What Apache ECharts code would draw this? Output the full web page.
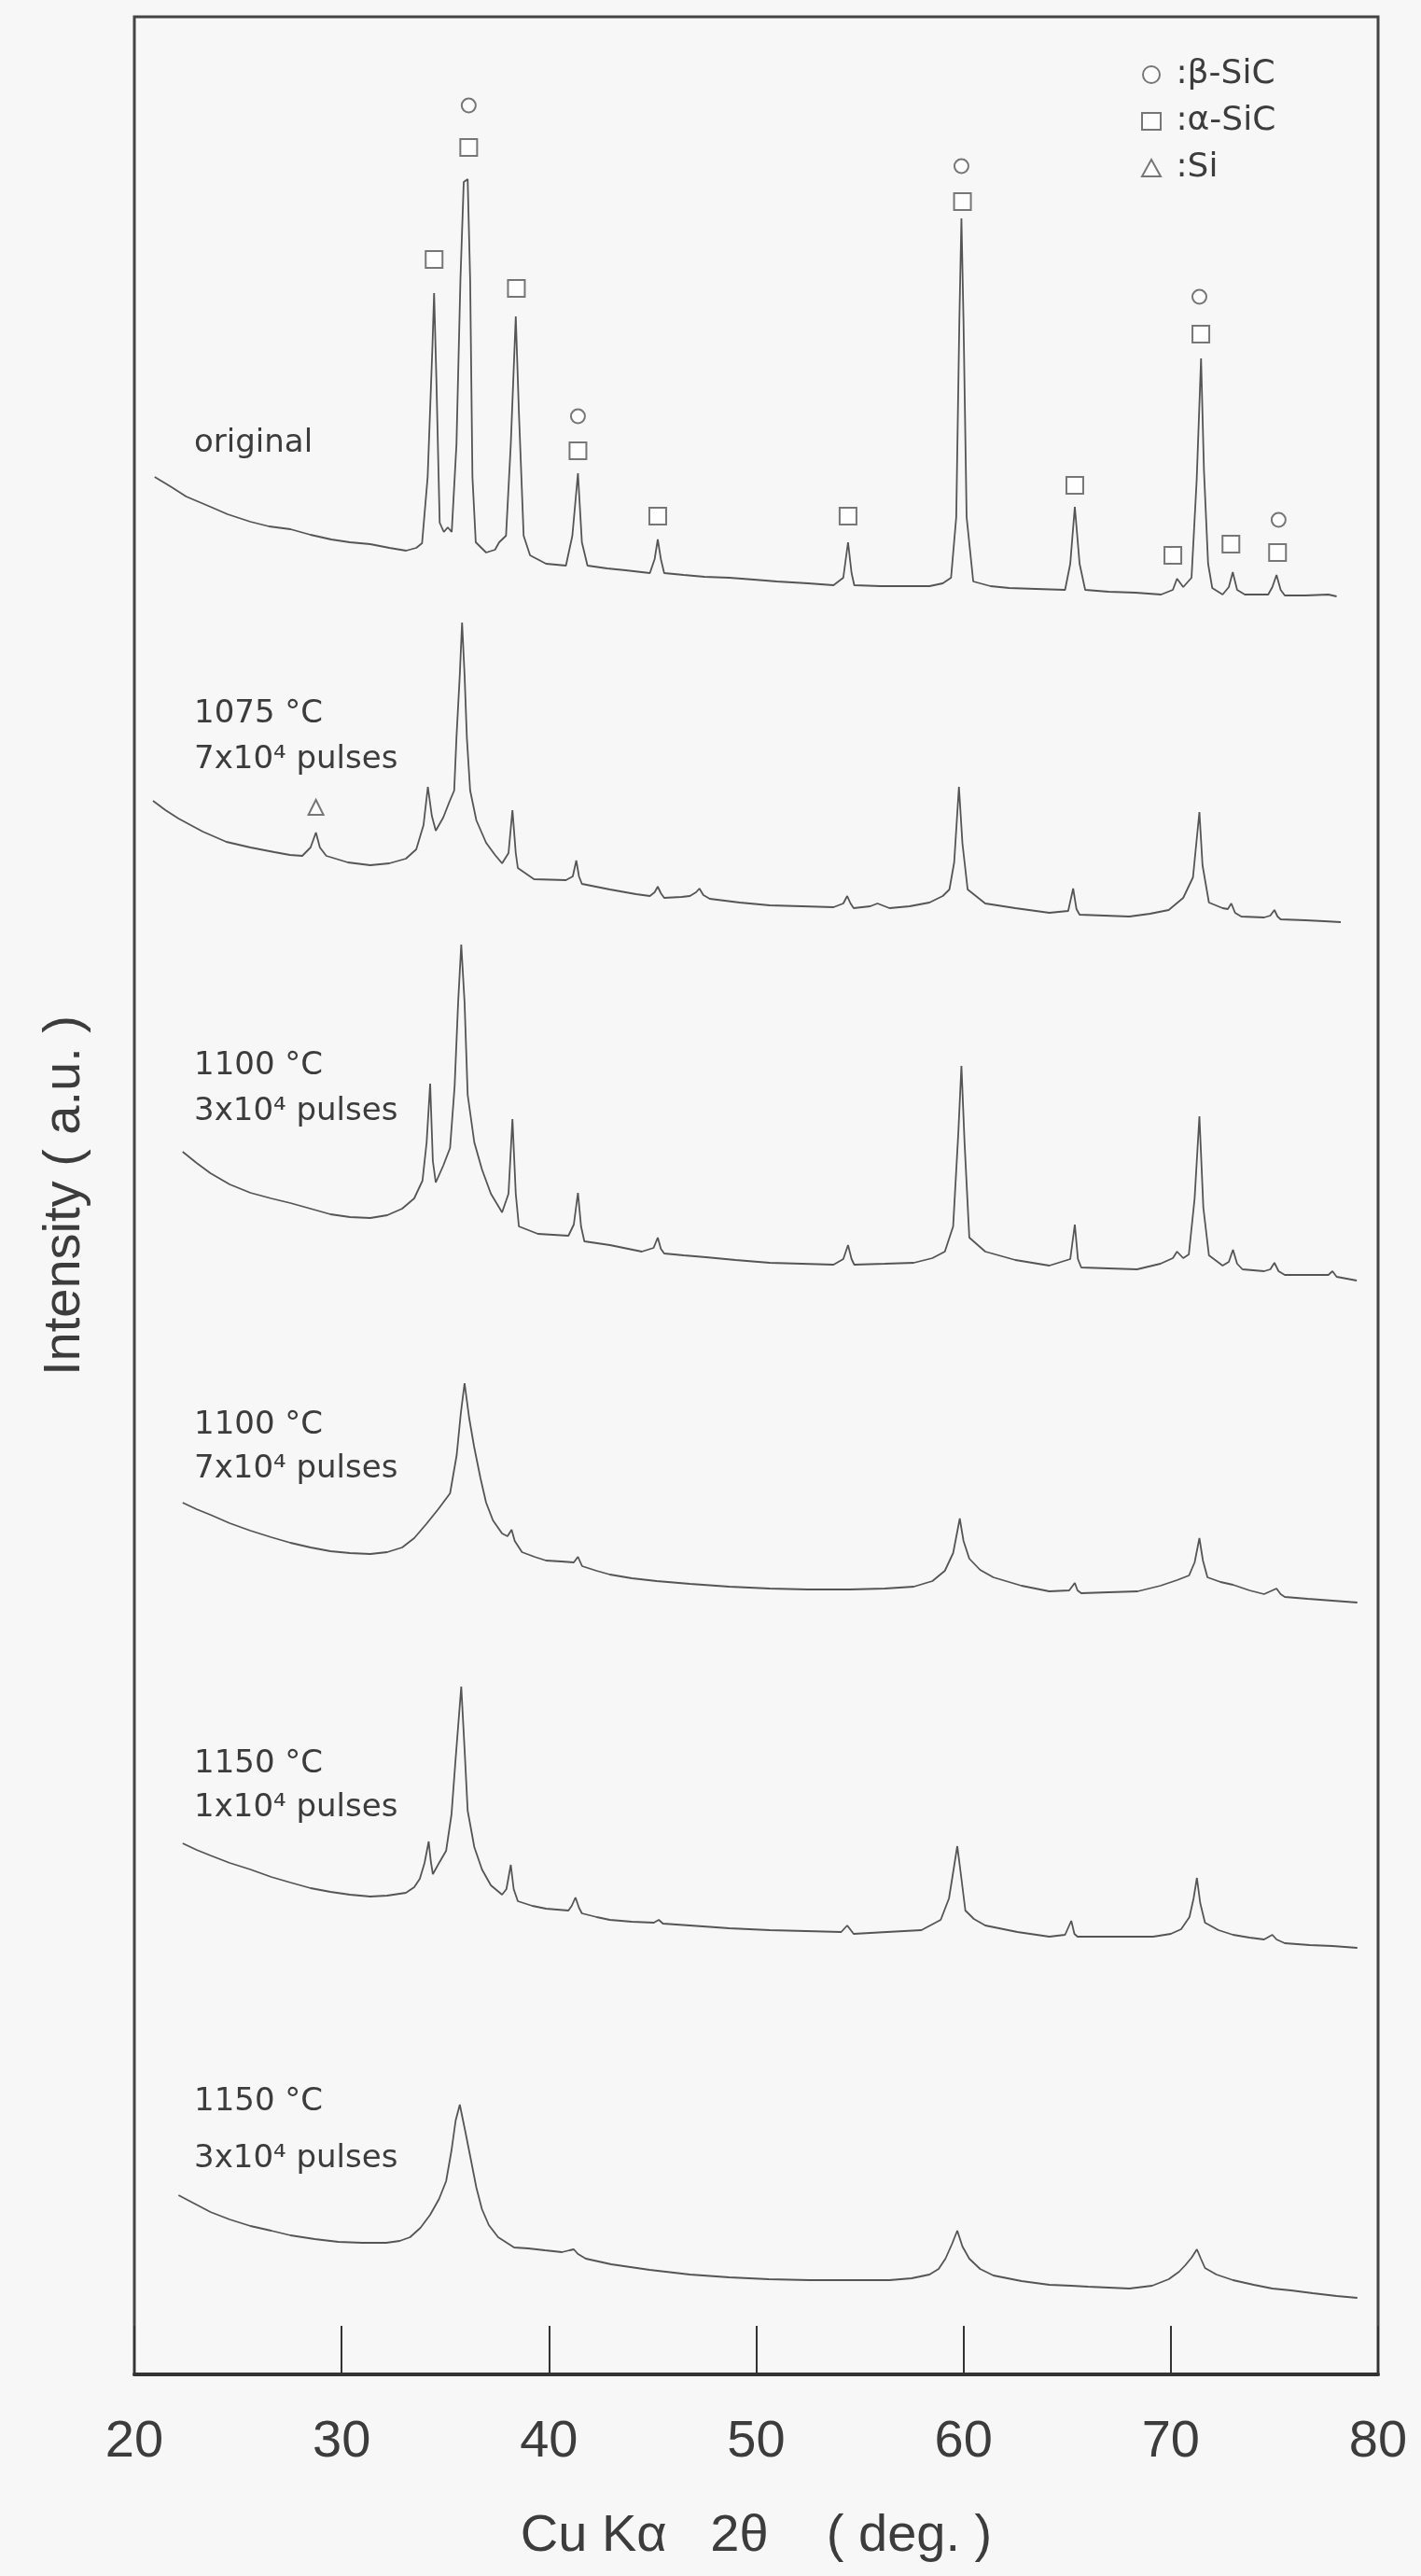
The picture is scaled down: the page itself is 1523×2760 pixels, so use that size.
<!DOCTYPE html>
<html>
<head>
<meta charset="utf-8">
<title>XRD patterns of SiC</title>
<script src="https://cdn.jsdelivr.net/npm/echarts@6/dist/echarts.min.js"></script>
<style>
  html, body { margin: 0; padding: 0; background: #f8f7f8; }
  #chart { width: 1523px; height: 2760px; }
</style>
</head>
<body>
<div id="chart"></div>
<script>
// diffraction angle 2theta (deg) vs intensity (a.u., traces stacked with offsets)
var original = [
  [20.98, 2033], [21.8, 2022], [22.5, 2012], [23.67, 2001], [24.5, 1993], [25.6, 1985], [26.5, 1980],
  [27.53, 1977], [28.5, 1971], [29.5, 1966], [30.4, 1963], [31.38, 1961], [32.3, 1957], [33.11, 1954],
  [33.6, 1957], [33.88, 1962], [34.15, 2033], [34.38, 2173], [34.46, 2230], [34.57, 2138], [34.73, 1984],
  [34.93, 1974], [35.12, 1979], [35.31, 1974], [35.54, 2068], [35.73, 2244], [35.89, 2349], [36.08, 2352],
  [36.2, 2244], [36.31, 2033], [36.47, 1963], [36.97, 1952], [37.4, 1955], [37.6, 1963], [37.93, 1970],
  [38.16, 2068], [38.4, 2205], [38.55, 2103], [38.78, 1970], [39.09, 1949], [39.86, 1940], [40.82, 1938],
  [41.13, 1970], [41.4, 2037], [41.59, 1963], [41.86, 1938], [42.8, 1935], [43.7, 1933], [44.87, 1930],
  [45.1, 1945], [45.25, 1966], [45.4, 1945], [45.56, 1930], [46.5, 1928], [47.5, 1926], [48.7, 1925],
  [49.88, 1923], [51.0, 1921], [52.5, 1919], [53.73, 1917], [54.2, 1925], [54.43, 1963], [54.6, 1930],
  [54.73, 1917], [56.0, 1916], [57.3, 1916], [58.36, 1916], [59.0, 1919], [59.4, 1925], [59.65, 1990],
  [59.8, 2200], [59.9, 2310], [60.0, 2200], [60.15, 1990], [60.47, 1921], [61.3, 1916], [62.2, 1914],
  [63.5, 1913], [64.9, 1912], [65.15, 1940], [65.37, 2001], [65.6, 1940], [65.87, 1912], [67.0, 1910],
  [68.3, 1909], [69.53, 1907], [70.1, 1912], [70.3, 1924], [70.6, 1915], [71.0, 1925], [71.25, 2030],
  [71.46, 2160], [71.6, 2040], [71.8, 1940], [72.0, 1914], [72.5, 1907], [72.8, 1915], [72.99, 1931],
  [73.2, 1912], [73.57, 1907], [74.7, 1907], [74.9, 1915], [75.1, 1928], [75.3, 1912], [75.5, 1906],
  [76.5, 1906], [77.6, 1907], [78.0, 1905]
];

var t1075p7 = [
  [20.9, 1686], [21.5, 1676], [22.13, 1667], [23.3, 1653], [24.44, 1642], [25.6, 1636], [26.76, 1631],
  [27.5, 1628], [28.1, 1627], [28.5, 1636], [28.76, 1652], [28.95, 1636], [29.26, 1627], [30.3, 1620],
  [31.38, 1617], [32.3, 1619], [33.1, 1624], [33.6, 1634], [33.95, 1660], [34.16, 1701], [34.35, 1670],
  [34.54, 1654], [34.9, 1668], [35.2, 1685], [35.43, 1697], [35.54, 1754], [35.7, 1821], [35.81, 1877],
  [35.93, 1821], [36.04, 1754], [36.2, 1697], [36.5, 1665], [36.97, 1641], [37.4, 1628], [37.74, 1619],
  [38.05, 1630], [38.24, 1676], [38.4, 1630], [38.5, 1614], [39.28, 1602], [40.82, 1601], [41.15, 1605],
  [41.32, 1622], [41.45, 1605], [41.59, 1597], [42.94, 1591], [44.2, 1586], [44.87, 1584], [45.1, 1588],
  [45.25, 1594], [45.4, 1587], [45.56, 1582], [46.4, 1583], [46.8, 1584], [47.1, 1588], [47.26, 1592],
  [47.45, 1585], [47.76, 1581], [49.2, 1577], [50.65, 1574], [52.2, 1573], [53.73, 1572], [54.2, 1576],
  [54.39, 1584], [54.55, 1576], [54.7, 1571], [55.5, 1573], [55.85, 1576], [56.43, 1571], [57.4, 1573],
  [58.36, 1577], [59.0, 1584], [59.32, 1591], [59.55, 1620], [59.78, 1701], [59.95, 1640], [60.2, 1591],
  [61.05, 1576], [62.5, 1571], [64.14, 1566], [65.05, 1568], [65.29, 1592], [65.45, 1570], [65.6, 1564],
  [66.8, 1563], [68.0, 1562], [69.0, 1565], [69.9, 1569], [70.6, 1582], [71.07, 1604], [71.38, 1674],
  [71.53, 1617], [71.84, 1577], [72.5, 1571], [72.75, 1570], [72.92, 1576], [73.1, 1566], [73.4, 1562],
  [74.5, 1561], [74.8, 1563], [75.0, 1569], [75.15, 1562], [75.3, 1559], [76.5, 1558], [77.4, 1557],
  [78.2, 1556]
];

var t1100p3 = [
  [22.33, 1310], [23.0, 1298], [23.67, 1287], [24.6, 1275], [25.6, 1266], [26.6, 1260], [27.53, 1255],
  [28.5, 1249], [29.46, 1243], [30.4, 1240], [31.38, 1239], [32.2, 1242], [32.92, 1249], [33.5, 1260],
  [33.9, 1279], [34.1, 1320], [34.27, 1383], [34.4, 1300], [34.54, 1277], [34.9, 1295], [35.23, 1314],
  [35.45, 1380], [35.62, 1470], [35.77, 1532], [35.93, 1470], [36.08, 1371], [36.4, 1320], [36.77, 1291],
  [37.2, 1265], [37.74, 1245], [38.05, 1265], [38.24, 1345], [38.4, 1265], [38.55, 1230], [39.47, 1222],
  [40.94, 1220], [41.2, 1232], [41.4, 1266], [41.55, 1230], [41.71, 1214], [42.94, 1210], [44.48, 1203],
  [45.05, 1207], [45.25, 1218], [45.4, 1206], [45.56, 1201], [46.5, 1199], [47.57, 1197], [49.0, 1194],
  [50.65, 1191], [52.2, 1190], [53.73, 1189], [54.2, 1195], [54.43, 1210], [54.6, 1195], [54.73, 1189],
  [56.2, 1190], [57.6, 1191], [58.5, 1196], [59.1, 1203], [59.5, 1230], [59.75, 1330], [59.9, 1402],
  [60.05, 1320], [60.28, 1218], [61.05, 1203], [62.5, 1194], [64.14, 1188], [65.15, 1195], [65.37, 1232],
  [65.52, 1195], [65.68, 1186], [67.0, 1185], [68.37, 1184], [69.5, 1190], [70.1, 1196], [70.3, 1203],
  [70.6, 1196], [70.87, 1200], [71.15, 1260], [71.38, 1348], [71.57, 1250], [71.84, 1199], [72.5, 1188],
  [72.8, 1192], [73.0, 1205], [73.2, 1190], [73.46, 1184], [74.5, 1182], [74.8, 1184], [75.0, 1191],
  [75.2, 1182], [75.5, 1178], [76.6, 1178], [77.6, 1178], [77.8, 1182], [78.0, 1176], [78.97, 1172]
];

var t1100p7 = [
  [22.33, 934], [23.0, 927], [23.67, 921], [24.6, 912], [25.6, 904], [26.6, 897], [27.53, 891],
  [28.5, 886], [29.46, 882], [30.4, 880], [31.38, 879], [32.2, 881], [32.92, 886], [33.5, 896],
  [34.08, 911], [34.66, 927], [35.23, 944], [35.55, 985], [35.75, 1030], [35.93, 1062], [36.15, 1025],
  [36.39, 994], [36.7, 960], [36.97, 934], [37.3, 915], [37.74, 901], [38.0, 898], [38.2, 905],
  [38.35, 893], [38.7, 881], [39.3, 876], [39.86, 872], [40.6, 871], [41.2, 870], [41.4, 876],
  [41.6, 866], [42.3, 861], [42.94, 857], [44.0, 853], [45.2, 850], [46.8, 847], [48.7, 844],
  [50.65, 842], [52.5, 841], [54.5, 841], [56.2, 842], [57.6, 844], [58.5, 850], [59.1, 861],
  [59.5, 880], [59.82, 917], [60.0, 893], [60.28, 874], [60.8, 862], [61.44, 854], [62.8, 845],
  [64.14, 839], [65.1, 840], [65.37, 848], [65.5, 840], [65.68, 837], [67.0, 838], [68.4, 839],
  [69.5, 845], [70.3, 851], [70.88, 856], [71.15, 870], [71.38, 896], [71.55, 872], [71.77, 854],
  [72.4, 849], [73.0, 846], [73.8, 840], [74.5, 836], [74.9, 840], [75.1, 842], [75.3, 836],
  [75.5, 833], [76.6, 831], [77.8, 829], [79.0, 827]
];

var t1150p1 = [
  [22.33, 569], [23.0, 562], [23.67, 556], [24.6, 548], [25.6, 541], [26.6, 533], [27.53, 527],
  [28.5, 521], [29.46, 517], [30.4, 514], [31.38, 512], [32.2, 513], [33.1, 516], [33.5, 522],
  [33.77, 531], [34.0, 548], [34.2, 571], [34.3, 550], [34.4, 536], [34.7, 548], [35.04, 561],
  [35.3, 600], [35.5, 660], [35.77, 737], [35.93, 670], [36.08, 604], [36.4, 565], [36.77, 541],
  [37.2, 524], [37.74, 514], [37.95, 520], [38.16, 546], [38.3, 520], [38.5, 507], [39.2, 502],
  [39.86, 499], [40.94, 497], [41.1, 502], [41.28, 511], [41.45, 500], [41.59, 494], [42.3, 490],
  [42.94, 487], [44.0, 485], [45.06, 484], [45.3, 487], [45.5, 483], [46.8, 481], [48.7, 478],
  [50.65, 476], [52.4, 475], [54.1, 474], [54.39, 481], [54.7, 472], [56.3, 474], [57.97, 476],
  [58.9, 487], [59.3, 510], [59.55, 545], [59.7, 566], [59.85, 540], [60.09, 497], [60.5, 488],
  [61.05, 481], [62.6, 474], [64.14, 469], [64.9, 471], [65.2, 486], [65.35, 472], [65.5, 469],
  [67.3, 469], [69.15, 469], [70.0, 472], [70.5, 477], [70.9, 490], [71.1, 510], [71.26, 532],
  [71.42, 505], [71.65, 484], [72.3, 476], [73.0, 471], [73.8, 468], [74.5, 466], [74.9, 471],
  [75.1, 466], [75.5, 462], [76.7, 460], [77.8, 459], [79.0, 457]
];

var t1150p3 = [
  [22.13, 192], [22.9, 183], [23.67, 174], [24.6, 166], [25.6, 159], [26.6, 154], [27.53, 149],
  [28.7, 145], [29.84, 142], [31.0, 141], [32.15, 141], [32.8, 143], [33.3, 147], [33.8, 157],
  [34.27, 171], [34.7, 188], [35.04, 207], [35.3, 240], [35.5, 272], [35.7, 289], [35.95, 262],
  [36.2, 234], [36.5, 200], [36.77, 177], [37.1, 160], [37.55, 147], [38.32, 136], [39.0, 135],
  [39.8, 133], [40.63, 131], [41.0, 133], [41.2, 134], [41.4, 129], [41.78, 124], [43.0, 118],
  [44.86, 112], [46.8, 107], [48.7, 104], [50.6, 102], [52.57, 101], [54.5, 101], [56.43, 101],
  [57.5, 103], [58.36, 107], [58.8, 113], [59.13, 124], [59.45, 140], [59.7, 154], [59.95, 137],
  [60.28, 124], [60.8, 113], [61.44, 106], [62.8, 100], [64.14, 96], [65.2, 95], [66.0, 94],
  [68.0, 92], [69.1, 95], [69.9, 102], [70.4, 110], [70.7, 117], [71.0, 125], [71.26, 134],
  [71.45, 124], [71.65, 114], [72.2, 107], [73.0, 101], [74.0, 96], [74.9, 92], [75.8, 90],
  [76.85, 87], [78.0, 84], [79.0, 82]
];

// phase marks placed above the peaks
var betaSiC = [[36.13, 2431], [41.4, 2098], [59.9, 2366], [71.38, 2226], [75.2, 1987]];
var alphaSiC = [
  [36.13, 2386], [34.46, 2266], [38.43, 2235], [41.4, 2061], [45.25, 1991], [54.43, 1991],
  [59.95, 2328], [65.37, 2024], [70.1, 1949], [71.45, 2186], [72.9, 1961], [75.15, 1952]
];
var siPeaks = [[28.76, 1679]];

var xTicks = [20, 80, 10]; // min, max, step

var ink = '#3c3c3c';
var trace = '#555555';

var chart = echarts.init(document.getElementById('chart'), null, { renderer: 'canvas' });

function lineSeries(name, data) {
  return {
    name: name,
    type: 'line',
    data: data,
    showSymbol: false,
    symbol: 'none',
    smooth: false,
    silent: true,
    lineStyle: { color: trace, width: 1.8 },
    z: 2
  };
}

function markSeries(name, symbol, size, data) {
  return {
    name: name,
    type: 'scatter',
    symbol: symbol,
    symbolSize: size,
    data: data,
    silent: true,
    itemStyle: { color: trace, borderColor: trace, borderWidth: 1.6 },
    z: 3
  };
}

function label(text, y) {
  return {
    type: 'text',
    x: 208,
    y: y,
    style: { text: text, font: '34px "DejaVu Sans"', fill: ink, verticalAlign: 'middle' }
  };
}

chart.setOption({
  animation: false,
  backgroundColor: '#f8f7f8',
  grid: { left: 144, right: 46, top: 18, bottom: 216, show: true, borderColor: '#444', borderWidth: 3 },
  legend: {
    data: ['β-SiC', 'α-SiC', 'Si'],
    orient: 'vertical',
    left: 1218,
    top: 57,
    itemWidth: 20,
    itemHeight: 18,
    itemGap: 14,
    formatter: function (n) { return ' :' + n; },
    textStyle: { fontSize: 36, lineHeight: 36, color: ink, fontFamily: 'DejaVu Sans' }
  },
  xAxis: {
    type: 'value',
    min: xTicks[0],
    max: xTicks[1],
    interval: xTicks[2],
    name: 'Cu Kα   2θ    ( deg. )',
    nameLocation: 'middle',
    nameGap: 146,
    nameTextStyle: { fontSize: 56, color: ink, fontFamily: 'Liberation Sans' },
    axisLine: { onZero: false, lineStyle: { color: '#333', width: 4 } },
    axisTick: { inside: true, length: 52, lineStyle: { color: '#333', width: 2 } },
    axisLabel: { fontSize: 56, color: ink, margin: 45, fontFamily: 'Liberation Sans' },
    splitLine: { show: false }
  },
  yAxis: {
    type: 'value',
    min: 0,
    max: 2526,
    name: 'Intensity ( a.u. )',
    nameLocation: 'middle',
    nameRotate: 90,
    nameGap: 46,
    nameTextStyle: { fontSize: 56, color: ink, fontFamily: 'Liberation Sans' },
    axisLine: { show: false },
    axisTick: { show: false },
    axisLabel: { show: false },
    splitLine: { show: false }
  },
  graphic: [
    label('original', 475),
    label('1075 °C', 765), label('7x10⁴ pulses', 814),
    label('1100 °C', 1142), label('3x10⁴ pulses', 1191),
    label('1100 °C', 1527), label('7x10⁴ pulses', 1574),
    label('1150 °C', 1890), label('1x10⁴ pulses', 1937),
    label('1150 °C', 2252), label('3x10⁴ pulses', 2313)
  ],
  series: [
    lineSeries('original', original),
    lineSeries('1075 °C 7x10⁴ pulses', t1075p7),
    lineSeries('1100 °C 3x10⁴ pulses', t1100p3),
    lineSeries('1100 °C 7x10⁴ pulses', t1100p7),
    lineSeries('1150 °C 1x10⁴ pulses', t1150p1),
    lineSeries('1150 °C 3x10⁴ pulses', t1150p3),
    markSeries('β-SiC', 'emptyCircle', 15, betaSiC),
    markSeries('α-SiC', 'emptyRect', 18, alphaSiC),
    markSeries('Si', 'emptyTriangle', 16, siPeaks)
  ]
});
window.addEventListener('resize', function () { chart.resize(); });
</script>
</body>
</html>
